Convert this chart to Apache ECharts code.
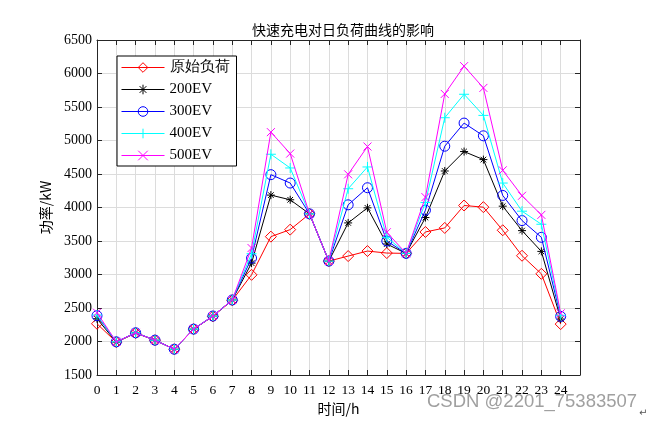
<!DOCTYPE html>
<html>
<head>
<meta charset="utf-8">
<script src="https://cdn.jsdelivr.net/npm/echarts@6/dist/echarts.min.js"></script>
<style>html,body{margin:0;padding:0;background:#fff}#c{width:654px;height:421px}</style>
</head>
<body>
<div id="c"></div>
<script>
const hours = [0,1,2,3,4,5,6,7,8,9,10,11,12,13,14,15,16,17,18,19,20,21,22,23,24];
const yTicks = [1500,2000,2500,3000,3500,4000,4500,5000,5500,6000,6500];
const names = ['原始负荷','200EV','300EV','400EV','500EV'];
const original = [2265,1990,2125,2020,1885,2185,2375,2615,2995,3565,3670,3905,3200,3275,3350,3320,3315,3635,3695,4030,4005,3660,3280,3010,2260];
const ev200    = [2340,1990,2130,2020,1885,2185,2380,2620,3170,4185,4115,3905,3200,3770,3995,3455,3315,3850,4545,4835,4715,4020,3655,3345,2335];
const ev300    = [2385,1995,2130,2020,1885,2185,2380,2620,3245,4490,4365,3905,3200,4040,4295,3500,3315,3960,4915,5260,5070,4180,3805,3555,2375];
const ev400    = [2395,1995,2130,2020,1885,2185,2380,2620,3310,4795,4590,3905,3200,4280,4605,3555,3315,4075,5340,5690,5375,4365,3945,3750,2390];
const ev500    = [2430,1995,2130,2020,1885,2185,2380,2620,3395,5125,4805,3905,3200,4495,4910,3630,3315,4155,5695,6110,5785,4555,4175,3890,2420];

const colors = ['#ff0000','#000000','#0000ff','#00ffff','#ff00ff'];
const symbols = [
  'diamond',
  'path://M5,0L5,10M0,5L10,5M1.5,1.5L8.5,8.5M8.5,1.5L1.5,8.5',
  'circle',
  'path://M5,0L5,10M0,5L10,5',
  'path://M0,0L10,10M10,0L0,10'
];
const sizes = [11, 8, 10, 10, 8];
const allData = [original, ev200, ev300, ev400, ev500];

const serif = '"Liberation Serif","Times New Roman",serif';
const cjk = '"Noto Sans CJK SC",sans-serif';

const series = allData.map((d, i) => ({
  name: names[i],
  type: 'line',
  data: hours.map((h, k) => [h, d[k]]),
  symbol: symbols[i],
  symbolSize: sizes[i],
  showSymbol: true,
  animation: false,
  lineStyle: { color: colors[i], width: 1 },
  itemStyle: { color: 'rgba(0,0,0,0)', borderColor: colors[i], borderWidth: 1 },
  emphasis: { disabled: true },
  z: 2 + i
}));

const chart = echarts.init(document.getElementById('c'), null, { renderer: 'canvas' });
chart.setOption({
  animation: false,
  backgroundColor: '#fff',
  title: {
    text: '快速充电对日负荷曲线的影响',
    left: 338, top: 18, textAlign: 'center',
    textStyle: { fontFamily: cjk, fontSize: 14, fontWeight: 'normal', color: '#000' }
  },
  grid: { left: 97, top: 40, width: 483, height: 335, show: false },
  legend: {
    data: names,
    orient: 'vertical',
    left: 117, top: 56,
    padding: [4, 7, 3, 4],
    itemWidth: 43, itemHeight: 12, itemGap: 7,
    backgroundColor: '#fff',
    borderColor: '#000', borderWidth: 1,
    lineStyle: { width: 1 },
    itemStyle: { borderWidth: 1 },
    textStyle: { fontFamily: serif, fontSize: 15, color: '#000' }
  },
  xAxis: [{
    type: 'value', min: 0, max: 25, interval: 1,
    name: '时间/h', nameLocation: 'middle', nameGap: 27,
    nameTextStyle: { fontFamily: cjk, fontSize: 14, color: '#000' },
    axisLine: { show: true, onZero: false, lineStyle: { color: '#262626', width: 1 } },
    axisTick: { show: true, inside: true, length: 5, lineStyle: { color: '#262626' } },
    axisLabel: { fontFamily: serif, fontSize: 13.5, color: '#000', margin: 8,
      formatter: v => (v <= 24 ? String(v) : '') },
    splitLine: { show: true, lineStyle: { color: '#dcdcdc', width: 1 } }
  }, {
    type: 'value', min: 0, max: 25, interval: 1, position: 'top',
    axisLine: { show: true, onZero: false, lineStyle: { color: '#262626', width: 1 } },
    axisTick: { show: true, inside: true, length: 5, lineStyle: { color: '#262626' } },
    axisLabel: { show: false }, splitLine: { show: false }
  }],
  yAxis: [{
    type: 'value', min: yTicks[0], max: yTicks[yTicks.length - 1], interval: 500,
    name: '功率/kW', nameLocation: 'middle', nameGap: 43, nameRotate: 90,
    nameTextStyle: { fontFamily: cjk, fontSize: 14, color: '#000' },
    axisLine: { show: true, onZero: false, lineStyle: { color: '#262626', width: 1 } },
    axisTick: { show: true, inside: true, length: 5, lineStyle: { color: '#262626' } },
    axisLabel: { fontFamily: serif, fontSize: 14, color: '#000', margin: 5, formatter: v => String(v) },
    splitLine: { show: true, lineStyle: { color: '#dcdcdc', width: 1 } }
  }, {
    type: 'value', min: yTicks[0], max: yTicks[yTicks.length - 1], interval: 500, position: 'right',
    axisLine: { show: true, onZero: false, lineStyle: { color: '#262626', width: 1 } },
    axisTick: { show: true, inside: true, length: 5, lineStyle: { color: '#262626' } },
    axisLabel: { show: false }, splitLine: { show: false }
  }],
  graphic: [{
    type: 'text', left: 427, top: 392, silent: true,
    style: { text: 'CSDN @2201_75383507', fontFamily: '"Liberation Sans",Arial,sans-serif', fontSize: 18.5, fill: '#a0a0a0' }
  }, {
    type: 'text', left: 639, top: 408, silent: true,
    style: { text: '↵', fontFamily: '"DejaVu Sans",sans-serif', fontSize: 10, fill: '#555' }
  }],
  series: series
});
</script>
</body>
</html>
